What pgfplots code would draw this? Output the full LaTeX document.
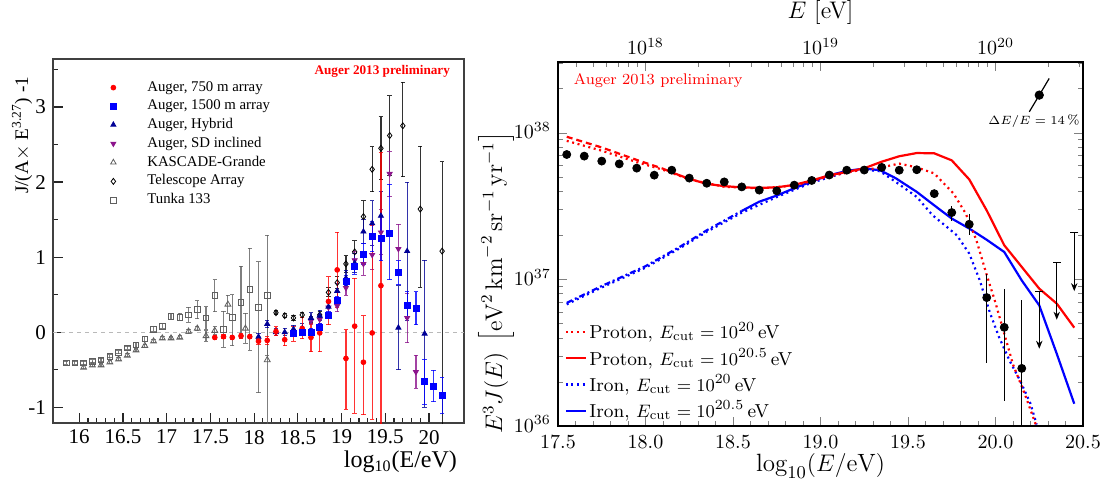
\documentclass[border=0pt]{standalone}
\usepackage{fontspec}
\usepackage{pgfplots}
\pgfplotsset{compat=1.18}
\usetikzlibrary{arrows.meta}
\newfontfamily\timesfont{Liberation Serif}
\definecolor{hyb}{RGB}{0,0,150}
\definecolor{sdinc}{RGB}{140,20,140}
\definecolor{kgray}{RGB}{95,95,95}

\pgfplotsset{
 lpt/.style={only marks, forget plot, error bars/y dir=both, error bars/y explicit,
   error bars/error mark=-, error bars/error mark options={rotate=90, mark size=1.1pt, line width=0.5pt},
   error bars/error bar style={line width=0.6pt, opacity=0.8}},
}

\begin{document}
\begin{tikzpicture}
\path[use as bounding box] (0,0) rectangle (554.5pt,-243pt);

% ---------------- left panel ----------------
\begin{axis}[
 at={(26.5pt,-29.5pt)}, anchor=north west, scale only axis,
 width=205.5pt, height=182pt,
 xmin=15.7, xmax=20.4, ymin=-1.21, ymax=3.64,
 xtick={16,16.5,17,17.5,18,18.5,19,19.5,20}, minor x tick num=4,
 ytick={-1,0,1,2,3}, minor ytick={-0.5,0.5,1.5,2.5,3.5},
 xtick pos=left, ytick pos=left, tick align=inside,
 major tick length=5pt, minor tick length=2.5pt,
 axis line style={black!75, line width=0.8pt},
 every tick/.style={black!85, line width=0.6pt},
 /pgf/number format/assume math mode=true,
 tick label style={font=\timesfont\fontsize{10.5}{12}\selectfont},
 xlabel={log\textsubscript{10}(E/eV)},
 xlabel style={font=\timesfont\fontsize{12}{14}\selectfont, at={(axis description cs:1,0)}, anchor=east, yshift=-19.5pt},
 ylabel={J/(A$\times$ E\textsuperscript{3.27}) -1},
 ylabel style={font=\timesfont\fontsize{9.6}{11}\selectfont, at={(axis description cs:-0.075,0.97)}, anchor=east},
 legend cell align=left,
 legend style={at={(axis description cs:0.124,0.962)}, anchor=north west, draw=none, fill=none,
   font=\timesfont\fontsize{7.4}{8.6}\selectfont, row sep=-1.2pt},
]
\addlegendimage{only marks, mark=*, red, mark size=1.2pt}
\addlegendentry{\hspace{13.5pt}Auger, 750 m array}
\addlegendimage{only marks, mark=square*, blue, mark size=1.5pt}
\addlegendentry{\hspace{13.5pt}Auger, 1500 m array}
\addlegendimage{only marks, mark=triangle*, hyb, mark size=1.45pt}
\addlegendentry{\hspace{13.5pt}Auger, Hybrid}
\addlegendimage{only marks, mark=triangle*, mark options={rotate=180}, sdinc, mark size=1.45pt}
\addlegendentry{\hspace{13.5pt}Auger, SD inclined}
\addlegendimage{only marks, mark=triangle, kgray, mark size=1.6pt}
\addlegendentry{\hspace{13.5pt}KASCADE-Grande}
\addlegendimage{only marks, mark=diamond, black, mark size=1.5pt}
\addlegendentry{\hspace{13.5pt}Telescope Array}
\addlegendimage{only marks, mark=square, kgray, mark size=1.35pt}
\addlegendentry{\hspace{13.5pt}Tunka 133}

\addplot[gray!55, forget plot, line width=0.4pt, dash pattern=on 2pt off 2pt] coordinates {(15.7,0) (20.4,0)};

% Tunka 133
\addplot[lpt, kgray, mark=square, mark size=1.4pt] table[y error plus=ep, y error minus=em] {
x y ep em
15.85 -0.41 0.02 0.02
15.95 -0.41 0.02 0.02
16.05 -0.41 0.02 0.02
16.15 -0.39 0.02 0.02
16.25 -0.37 0.02 0.02
16.35 -0.32 0.02 0.02
16.45 -0.27 0.02 0.02
16.55 -0.21 0.02 0.02
16.65 -0.17 0.03 0.03
16.75 -0.09 0.03 0.03
16.85 0.04 0.03 0.03
16.95 0.08 0.03 0.03
17.05 0.21 0.04 0.04
17.15 0.20 0.05 0.05
17.25 0.23 0.10 0.10
17.35 0.30 0.12 0.12
17.45 0.19 0.15 0.15
17.55 0.49 0.21 0.22
17.65 0.04 0.24 0.24
17.75 0.20 0.30 0.38
17.85 0.40 0.48 0.48
17.95 0.57 0.55 0.81
18.05 0.33 0.61 1.14
18.15 0.49 0.80 0.80
};
% KASCADE-Grande
\addplot[lpt, kgray, mark=triangle, mark size=1.7pt] table[y error plus=ep, y error minus=em] {
x y ep em
16.05 -0.47 0.02 0.02
16.15 -0.44 0.02 0.02
16.25 -0.44 0.02 0.02
16.35 -0.40 0.02 0.02
16.45 -0.36 0.02 0.02
16.55 -0.31 0.02 0.02
16.65 -0.24 0.02 0.02
16.75 -0.18 0.02 0.02
16.85 -0.12 0.02 0.02
16.95 -0.08 0.02 0.02
17.05 -0.08 0.02 0.02
17.15 -0.07 0.02 0.02
17.25 0.01 0.03 0.03
17.35 0.05 0.03 0.03
17.45 -0.05 0.07 0.07
17.55 0.02 0.05 0.05
17.70 0.37 0.12 0.12
17.90 0.05 0.20 0.20
18.15 -0.37 0.90 0.90
};
% Telescope Array
\addplot[lpt, black, mark=diamond, mark size=1.5pt] table[y error plus=ep, y error minus=em] {
x y ep em
18.25 0.26 0.03 0.03
18.35 0.22 0.03 0.03
18.45 0.19 0.03 0.03
18.55 0.23 0.03 0.03
18.65 0.17 0.04 0.04
18.75 0.23 0.04 0.04
18.85 0.53 0.06 0.06
18.95 0.66 0.08 0.08
19.05 0.91 0.11 0.11
19.15 1.07 0.15 0.15
19.25 1.54 0.21 0.21
19.35 2.17 0.30 0.30
19.45 2.45 0.42 0.42
19.55 2.62 0.53 0.53
19.70 2.75 0.58 0.68
19.90 1.64 0.84 1.04
20.15 1.08 1.19 2.40
};
% Auger SD inclined
\addplot[lpt, sdinc, mark=triangle*, mark options={rotate=180}, mark size=1.45pt] table[y error plus=ep, y error minus=em] {
x y ep em
18.65 0.15 0.05 0.05
18.75 0.17 0.06 0.06
18.85 0.33 0.07 0.07
18.95 0.35 0.08 0.08
19.05 0.59 0.10 0.10
19.15 0.96 0.12 0.12
19.25 0.91 0.15 0.15
19.35 1.03 0.20 0.20
19.45 1.33 0.30 0.30
19.55 2.11 0.30 0.30
19.65 1.11 0.33 0.33
19.75 0.19 0.33 0.33
19.85 -0.53 0.22 0.22
};
% Auger Hybrid
\addplot[lpt, hyb, mark=triangle*, mark size=1.45pt] table[y error plus=ep, y error minus=em] {
x y ep em
18.05 -0.06 0.04 0.04
18.15 0.11 0.05 0.05
18.25 0.00 0.05 0.05
18.35 0.00 0.05 0.05
18.45 0.04 0.05 0.05
18.55 0.05 0.06 0.06
18.65 0.19 0.07 0.07
18.75 0.22 0.07 0.07
18.85 0.34 0.08 0.08
18.95 0.55 0.10 0.10
19.05 0.72 0.10 0.10
19.15 0.92 0.13 0.13
19.25 1.34 0.16 0.16
19.35 1.45 0.30 0.30
19.45 1.55 0.33 0.33
19.65 0.06 0.56 0.56
19.75 1.08 0.92 0.92
19.95 -0.02 0.98 0.98
};
% Auger 750 m
\addplot[lpt, red, mark=*, mark size=1.2pt] table[y error plus=ep, y error minus=em] {
x y ep em
17.55 -0.07 0.03 0.03
17.65 -0.06 0.03 0.03
17.75 -0.07 0.03 0.03
17.85 -0.05 0.03 0.03
17.95 -0.06 0.03 0.03
18.05 -0.12 0.04 0.04
18.15 -0.11 0.05 0.05
18.25 0.01 0.06 0.06
18.35 -0.10 0.08 0.08
18.45 -0.02 0.10 0.10
18.55 0.05 0.14 0.14
18.65 -0.07 0.19 0.19
18.75 -0.01 0.25 0.25
18.85 0.41 0.33 0.31
18.95 0.83 0.50 0.50
19.05 -0.35 0.38 0.68
19.15 0.08 0.64 1.16
19.25 -0.40 0.62 0.70
19.35 -0.01 1.43 1.15
19.45 0.62 1.77 2.00
};
% Auger 1500 m
\addplot[lpt, blue, mark=square*, mark size=1.5pt] table[y error plus=ep, y error minus=em] {
x y ep em
18.45 -0.01 0.04 0.04
18.55 0.00 0.04 0.04
18.65 0.00 0.05 0.05
18.75 0.06 0.05 0.05
18.85 0.23 0.05 0.05
18.95 0.42 0.05 0.05
19.05 0.68 0.07 0.07
19.15 0.87 0.10 0.10
19.25 1.04 0.14 0.14
19.35 1.27 0.20 0.20
19.45 1.25 0.30 0.30
19.55 1.32 0.65 0.62
19.65 0.79 0.16 0.16
19.75 0.36 0.18 0.18
19.85 0.32 0.22 0.22
19.95 -0.66 0.30 0.30
20.05 -0.72 0.21 0.21
20.15 -0.84 0.24 0.24
};
\node[anchor=east, text=red, font=\timesfont\bfseries\fontsize{6.6}{8}\selectfont] at (axis description cs:0.983,0.967) {Auger 2013 preliminary};
\end{axis}

% ---------------- right panel ----------------
\begin{axis}[
 at={(279pt,-31pt)}, anchor=north west, scale only axis,
 width=262.5pt, height=182pt,
 xmin=17.5, xmax=20.5, ymin=36, ymax=38.483,
 xtick={17.5,18,18.5,19,19.5,20,20.5}, minor x tick num=4,
 ytick={36,37,38}, yticklabels={$10^{36}$,$10^{37}$,$10^{38}$},
 minor ytick={36.301,36.477,36.602,36.699,36.778,36.845,36.903,36.954,
   37.301,37.477,37.602,37.699,37.778,37.845,37.903,37.954,38.301,38.477},
 xtick pos=left, ytick pos=both, tick align=inside,
 major tick length=4.5pt, minor tick length=2.5pt,
 axis line style={line width=0.6pt},
 x tick label style={/pgf/number format/fixed, /pgf/number format/fixed zerofill, /pgf/number format/precision=1, yshift=-1.5pt},
 y tick label style={yshift=1pt},
 tick label style={font=\fontsize{9.6}{12}\selectfont},
 xlabel={$\log_{10}(E/\mathrm{eV})$},
 xlabel style={font=\fontsize{12.5}{14}\selectfont, at={(axis description cs:0.5,0)}, anchor=center, yshift=-20pt},
 ylabel={$E^3 J(E)\ \left[\mathrm{eV}^2\,\mathrm{km}^{-2}\,\mathrm{sr}^{-1}\,\mathrm{yr}^{-1}\right]$},
 ylabel style={font=\fontsize{12}{14}\selectfont, at={(axis description cs:-0.118,0.393)}, anchor=center},
 legend cell align=left,
 legend image code/.code={\draw[#1] (0cm,0cm) -- (0.36cm,0cm);},
 legend style={at={(axis description cs:0.012,0.292)}, anchor=north west, draw=none, fill=none,
   font=\fontsize{9.4}{11}\selectfont, row sep=1.3pt, inner sep=0pt, nodes={inner sep=1pt}},
]
\addlegendimage{red, line width=1.1pt, dash pattern=on 1pt off 1.8pt}
\addlegendentry{Proton, $E_{\mathrm{cut}}=10^{20}\,$eV}
\addlegendimage{red, line width=1.1pt}
\addlegendentry{Proton, $E_{\mathrm{cut}}=10^{20.5}\,$eV}
\addlegendimage{blue, line width=1.1pt, dash pattern=on 1pt off 1.8pt}
\addlegendentry{Iron, $E_{\mathrm{cut}}=10^{20}\,$eV}
\addlegendimage{blue, line width=1.1pt}
\addlegendentry{Iron, $E_{\mathrm{cut}}=10^{20.5}\,$eV}

% iron, E_cut = 10^20
\addplot[blue, forget plot, line width=1.1pt, dash pattern=on 1pt off 1.8pt] table {
x y
17.55 36.830
17.75 36.945
18.00 37.080
18.20 37.215
18.35 37.325
18.55 37.455
18.75 37.562
18.95 37.660
19.15 37.733
19.25 37.748
19.34 37.738
19.43 37.665
19.55 37.563
19.64 37.438
19.72 37.360
19.78 37.300
19.85 37.176
19.91 36.994
19.97 36.766
20.02 36.607
20.08 36.447
20.14 36.311
20.20 36.152
20.235 36.010
};
% iron, E_cut = 10^20.5
\addplot[blue, forget plot, line width=1.1pt, dash pattern=on 3pt off 1.5pt on 1pt off 1.5pt] table {
x y
17.55 36.840
17.75 36.955
18.00 37.090
18.20 37.225
18.35 37.335
18.55 37.467
};
\addplot[blue, forget plot, line width=1.1pt] table {
x y
18.55 37.467
18.65 37.530
18.75 37.572
18.85 37.622
18.95 37.668
19.05 37.710
19.15 37.740
19.25 37.756
19.34 37.745
19.43 37.690
19.55 37.597
19.65 37.505
19.75 37.415
19.85 37.347
19.95 37.270
20.05 37.187
20.15 36.993
20.25 36.823
20.35 36.493
20.45 36.152
};
% proton, E_cut = 10^20
\addplot[red, forget plot, line width=1.1pt, dash pattern=on 1pt off 1.8pt] table {
x y
17.55 37.945
17.75 37.878
17.95 37.800
18.10 37.748
18.25 37.682
18.45 37.632
18.65 37.620
18.85 37.640
19.05 37.703
19.20 37.740
19.34 37.762
19.45 37.790
19.55 37.764
19.65 37.723
19.76 37.586
19.83 37.449
19.89 37.270
19.95 37.030
20.00 36.840
20.05 36.630
20.10 36.420
20.17 36.210
20.23 36.010
};
% proton, E_cut = 10^20.5
\addplot[red, forget plot, line width=1.1pt, dash pattern=on 3pt off 2pt] table {
x y
17.55 37.973
17.75 37.900
17.95 37.815
18.10 37.755
};
\addplot[red, forget plot, line width=1.1pt] table {
x y
18.10 37.755
18.15 37.730
18.25 37.686
18.35 37.652
18.45 37.636
18.55 37.628
18.65 37.624
18.75 37.628
18.85 37.645
18.95 37.675
19.05 37.710
19.15 37.733
19.25 37.758
19.35 37.803
19.45 37.840
19.55 37.862
19.65 37.860
19.75 37.812
19.85 37.682
19.95 37.470
20.05 37.233
20.15 37.085
20.25 36.937
20.35 36.835
20.45 36.671
};

% Auger spectrum (log10 of E^3 J)
\addplot[only marks, forget plot, mark=*, mark size=2pt, black] table {
x y
17.55 37.852
17.65 37.841
17.75 37.807
17.85 37.788
17.95 37.759
18.05 37.711
18.15 37.745
18.25 37.691
18.35 37.656
18.45 37.665
18.55 37.631
18.65 37.609
18.75 37.604
18.85 37.643
18.95 37.675
19.05 37.712
19.15 37.745
19.25 37.746
19.35 37.764
19.45 37.745
19.55 37.748
19.65 37.585
};
\addplot[only marks, forget plot, mark=*, mark size=2pt, black,
 error bars/.cd, y dir=both, y explicit, error mark=none, error bar style={line width=0.5pt}]
 table[y error plus=ep, y error minus=em] {
x y ep em
19.75 37.456 0.045 0.055
19.85 37.376 0.070 0.075
19.95 36.876 0.164 0.447
20.05 36.673 0.264 0.504
20.15 36.393 0.464 0.600
};
% upper limits
\addplot[black, forget plot, line width=0.5pt, -{Stealth[length=4pt,width=3.2pt]}] coordinates {(20.25,36.919) (20.25,36.527)};
\addplot[black, forget plot, line width=0.5pt, -{Stealth[length=4pt,width=3.2pt]}] coordinates {(20.35,37.117) (20.35,36.725)};
\addplot[black, forget plot, line width=0.5pt, -{Stealth[length=4pt,width=3.2pt]}] coordinates {(20.45,37.320) (20.45,36.920)};
\addplot[only marks, forget plot, mark=-, mark size=2pt, black, mark options={line width=0.5pt}] coordinates {(20.25,36.919) (20.35,37.117) (20.45,37.320)};
% energy scale uncertainty
\addplot[black, forget plot, line width=0.6pt, mark=*, mark indices={2}, mark size=2pt] coordinates {(20.193,38.143) (20.25,38.257) (20.307,38.371)};
\node[font=\fontsize{6.5}{8}\selectfont] at (axis cs:20.22,38.08) {$\Delta E/E = 14\,\%$};
\node[anchor=west, text=red, font=\fontsize{7.7}{10}\selectfont] at (axis description cs:0.017,0.95) {Auger 2013 preliminary};
\end{axis}

% top energy axis
\begin{axis}[
 at={(279pt,-31pt)}, anchor=north west, scale only axis,
 width=262.5pt, height=182pt,
 xmin=17.5, xmax=20.5, ymin=0, ymax=1,
 axis x line*=top, axis y line=none,
 xtick={18,19,20}, xticklabels={$10^{18}$,$10^{19}$,$10^{20}$},
 minor xtick={17.602,17.699,17.778,17.845,17.903,17.954,
   18.301,18.477,18.602,18.699,18.778,18.845,18.903,18.954,
   19.301,19.477,19.602,19.699,19.778,19.845,19.903,19.954,20.301,20.477},
 tick align=inside, major tick length=4.5pt, minor tick length=2.5pt,
 axis line style={line width=0.6pt},
 tick label style={font=\fontsize{10}{12}\selectfont},
 xlabel={$E$ [eV]},
 xlabel style={font=\fontsize{12}{14}\selectfont, at={(axis description cs:0.5,1)}, anchor=center, yshift=24.5pt},
]
\end{axis}
\end{tikzpicture}
\end{document}
